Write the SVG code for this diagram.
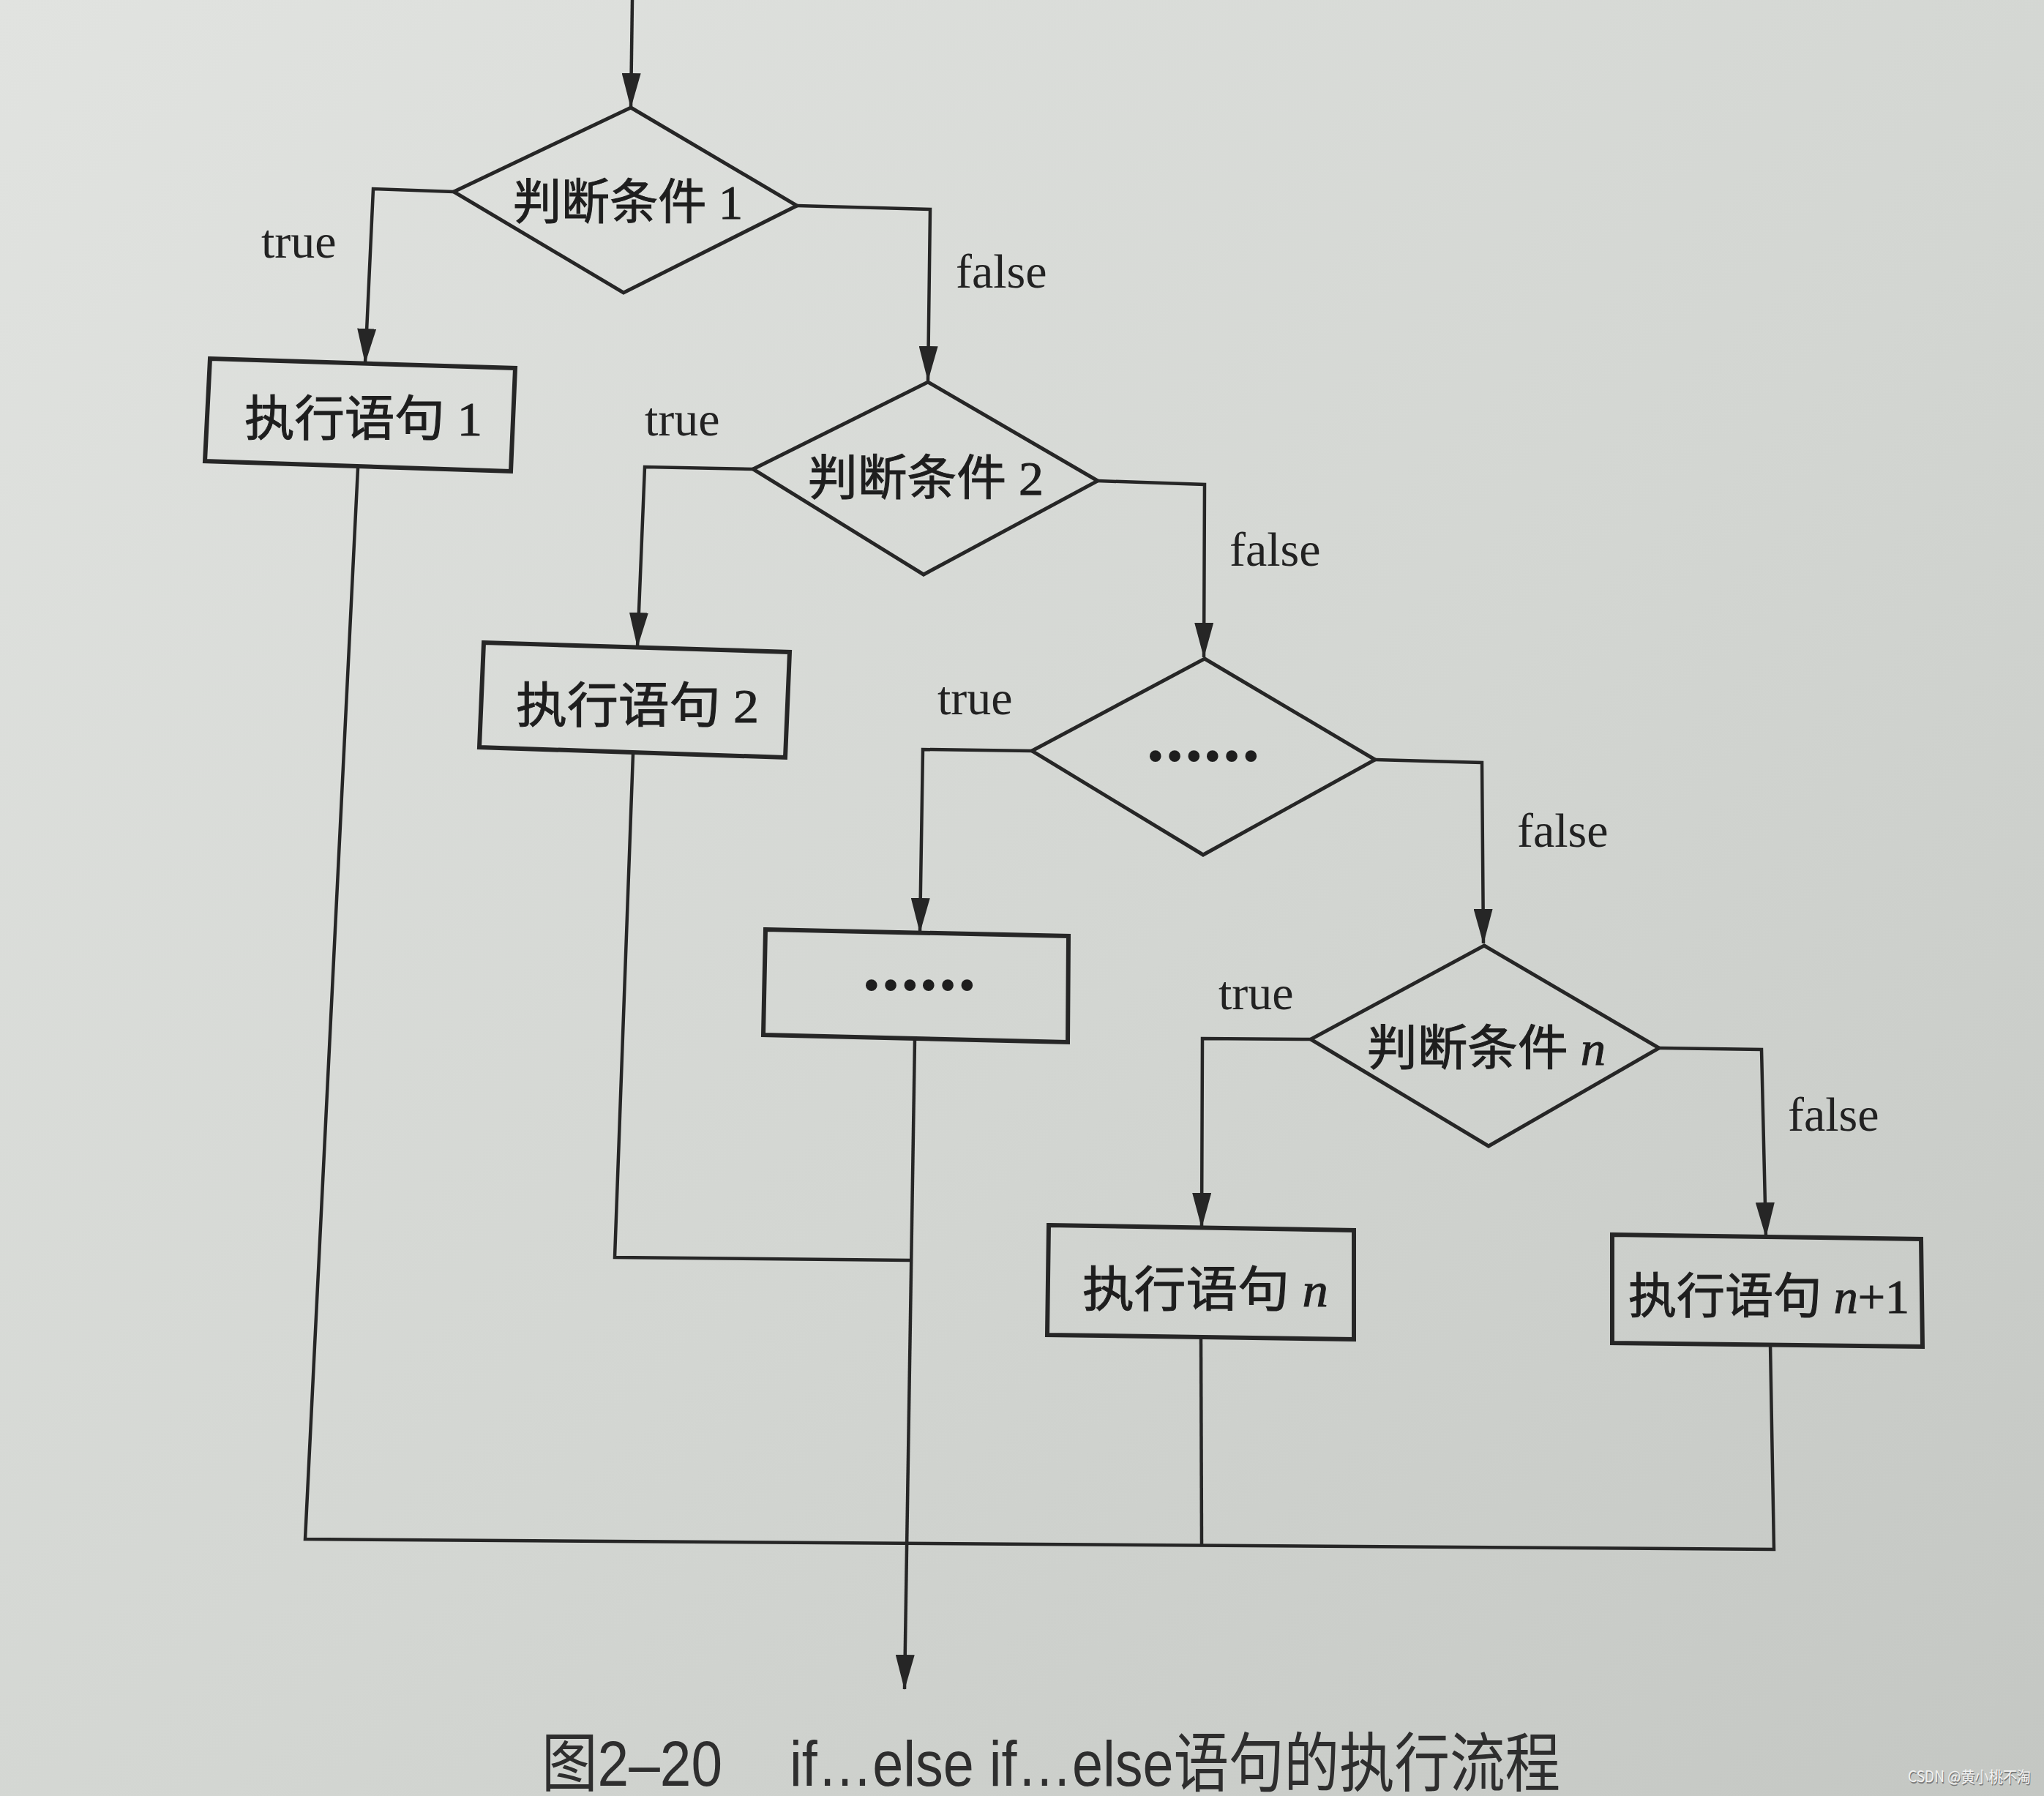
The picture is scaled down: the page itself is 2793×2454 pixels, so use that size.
<svg xmlns="http://www.w3.org/2000/svg" width="2793" height="2454" viewBox="0 0 2793 2454">
<defs>
<linearGradient id="paper" x1="0" y1="0" x2="1" y2="1">
<stop offset="0" stop-color="#e1e3e0"/>
<stop offset="0.55" stop-color="#d3d6d2"/>
<stop offset="1" stop-color="#c4c7c3"/>
</linearGradient>
<marker id="arr" viewBox="0 0 48 26" markerWidth="48" markerHeight="26" refX="47" refY="13" orient="auto" markerUnits="userSpaceOnUse">
<path d="M0,0 L48,13 L0,26 z" fill="#262626"/>
</marker>
<style>
.box{fill:none;stroke:#262626;stroke-width:6;stroke-linejoin:miter}
.dia{fill:none;stroke:#262626;stroke-width:5;stroke-linejoin:miter}
.con{fill:none;stroke:#262626;stroke-width:4.5;stroke-linejoin:miter}
.lbl{font-family:"Liberation Serif","Noto Sans CJK SC",serif;font-size:66px;fill:#222}
.nt{font-family:"Liberation Serif","Noto Sans CJK SC",serif;font-size:66px;fill:#1e1e1e;stroke:#1e1e1e;stroke-width:1}
.dots{font-family:"Liberation Serif",serif;font-size:78px;font-weight:bold;fill:#1e1e1e;stroke:#1e1e1e;stroke-width:3;text-anchor:middle}
.cap{font-family:"Liberation Sans","Noto Sans CJK SC",sans-serif;font-size:88px;fill:#2e2e2e}
.wm{font-family:"Noto Sans CJK SC",sans-serif;font-size:21px}
</style>
</defs>
<rect x="0" y="0" width="2793" height="2454" fill="url(#paper)"/>

<g id="connectors">
<path class="con" d="M864,0 L862,147" marker-end="url(#arr)"/>
<path class="con" d="M620,262 L510,258 L499,496" marker-end="url(#arr)"/>
<path class="con" d="M1089,281 L1271,286 L1268,520" marker-end="url(#arr)"/>
<path class="con" d="M1029,641 L881,638 L871,884" marker-end="url(#arr)"/>
<path class="con" d="M1500,657 L1646,662 L1645,898" marker-end="url(#arr)"/>
<path class="con" d="M1410,1026 L1261,1024 L1257,1274" marker-end="url(#arr)"/>
<path class="con" d="M1879,1038 L2025,1042 L2027,1289" marker-end="url(#arr)"/>
<path class="con" d="M1791,1420 L1643,1419 L1642,1677" marker-end="url(#arr)"/>
<path class="con" d="M2267,1432 L2407,1434 L2413,1690" marker-end="url(#arr)"/>
<path class="con" d="M489,640 L417,2103 L2424,2117 L2419,1836"/>
<path class="con" d="M1641,1827 L1642,2112"/>
<path class="con" d="M865,1030 L840,1718 L1244,1722"/>
<path class="con" d="M1250,1420 L1236,2308" marker-end="url(#arr)"/>
</g>

<g id="node-cond1">
<polygon class="dia" points="862,147 1089,281 852,400 620,262"/>
<text class="nt" x="701" y="299" textLength="314" lengthAdjust="spacingAndGlyphs">判断条件 1</text>
</g>
<g id="node-stmt1">
<polygon class="box" points="287,490 704,503 698,644 280,630"/>
<text class="nt" x="334" y="595" textLength="325" lengthAdjust="spacingAndGlyphs">执行语句 1</text>
</g>
<g id="node-cond2">
<polygon class="dia" points="1268,522 1500,657 1262,785 1029,641"/>
<text class="nt" x="1104" y="676" textLength="322" lengthAdjust="spacingAndGlyphs">判断条件 2</text>
</g>
<g id="node-stmt2">
<polygon class="box" points="661,878 1079,891 1073,1035 655,1021"/>
<text class="nt" x="705" y="987" textLength="332" lengthAdjust="spacingAndGlyphs">执行语句 2</text>
</g>
<g id="node-cond3">
<polygon class="dia" points="1646,900 1879,1038 1644,1168 1410,1026"/>
<text class="dots" x="1644" y="1039">……</text>
</g>
<g id="node-stmt3">
<polygon class="box" points="1046,1270 1460,1279 1459,1424 1043,1414"/>
<text class="dots" x="1256" y="1352">……</text>
</g>
<g id="node-condn">
<polygon class="dia" points="2028,1292 2267,1432 2034,1566 1791,1420"/>
<text class="nt" x="1868" y="1455" textLength="326" lengthAdjust="spacingAndGlyphs">判断条件 <tspan font-style="italic">n</tspan></text>
</g>
<g id="node-stmtn">
<polygon class="box" points="1433,1674 1850,1681 1850,1830 1431,1824"/>
<text class="nt" x="1479" y="1785" textLength="336" lengthAdjust="spacingAndGlyphs">执行语句 <tspan font-style="italic">n</tspan></text>
</g>
<g id="node-stmtn1">
<polygon class="box" points="2203,1687 2625,1693 2627,1840 2203,1835"/>
<text class="nt" x="2225" y="1794" textLength="384" lengthAdjust="spacingAndGlyphs">执行语句 <tspan font-style="italic">n</tspan>+1</text>
</g>

<g id="labels">
<text class="lbl" x="357" y="352">true</text>
<text class="lbl" x="1306" y="393">false</text>
<text class="lbl" x="881" y="595">true</text>
<text class="lbl" x="1680" y="773">false</text>
<text class="lbl" x="1281" y="976">true</text>
<text class="lbl" x="2073" y="1157">false</text>
<text class="lbl" x="1665" y="1379">true</text>
<text class="lbl" x="2443" y="1545">false</text>
</g>

<g id="caption">
<text class="cap" x="740" y="2440" textLength="247" lengthAdjust="spacingAndGlyphs">图2–20</text>
<text class="cap" x="1079" y="2440" textLength="1053" lengthAdjust="spacingAndGlyphs">if…else if…else语句的执行流程</text>
</g>
<g id="watermark">
<text class="wm" x="2608" y="2437" fill="#7a7a7a" textLength="168" lengthAdjust="spacingAndGlyphs">CSDN @黄小桃不淘</text>
<text class="wm" x="2607" y="2435" fill="#f2f2f2" textLength="168" lengthAdjust="spacingAndGlyphs">CSDN @黄小桃不淘</text>
</g>
</svg>
